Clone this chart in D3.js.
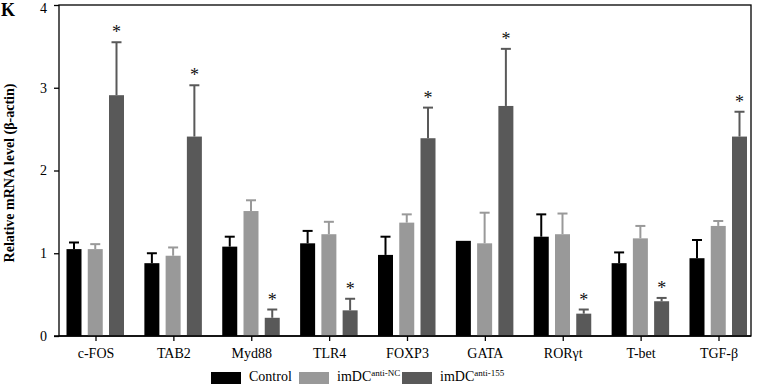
<!DOCTYPE html>
<html><head><meta charset="utf-8">
<script src="https://cdn.jsdelivr.net/npm/d3@7"></script>
<style>body{margin:0;background:#fff}svg{display:block}text{font-family:"Liberation Serif","Times New Roman",serif}</style>
</head><body><svg id="c" width="757" height="385"></svg>
<script>
const categories = ["c-FOS","TAB2","Myd88","TLR4","FOXP3","GATA","RORγt","T-bet","TGF-β"];
const seriesNames = ["Control","imDC anti-NC","imDC anti-155"];
const controlVals = [1.05,0.88,1.08,1.12,0.98,1.15,1.20,0.88,0.94];
const controlErr  = [1.13,1.00,1.20,1.27,1.20,null,1.47,1.01,1.16];
const ncVals      = [1.05,0.97,1.51,1.23,1.37,1.12,1.23,1.18,1.33];
const ncErr       = [1.11,1.07,1.64,1.38,1.47,1.49,1.48,1.33,1.39];
const antiVals    = [2.91,2.41,0.22,0.31,2.39,2.78,0.27,0.42,2.41];
const antiErr     = [3.55,3.03,0.32,0.45,2.76,3.47,0.32,0.46,2.71];
const yTicks = [0,1,2,3,4];
const colors = ["#000000","#999999","#595959"];

const svg = d3.select("#c");
const mL=59, mR=751, mT=5, mB=336;
const y = d3.scaleLinear().domain([0,4]).range([mB,mT]);
const x = d3.scalePoint().domain(categories).range([95.5,718.5]);
const offs = d3.scalePoint().domain([0,1,2]).range([-21.5,21]);
const bw = 15;

// frame
svg.append("rect").attr("x",mL).attr("y",mT).attr("width",mR-mL).attr("height",mB-mT)
  .attr("fill","none").attr("stroke","#000").attr("stroke-width",1.3);

const series = [[controlVals,controlErr],[ncVals,ncErr],[antiVals,antiErr]];
series.forEach(([vals,errs],si)=>{
  const g = svg.append("g");
  categories.forEach((c,i)=>{
    const cx = x(c)+offs(si);
    g.append("rect").attr("x",cx-bw/2).attr("y",y(vals[i])).attr("width",bw).attr("height",y(0)-y(vals[i])).attr("fill",colors[si]);
    if(errs[i]!=null){
      g.append("line").attr("x1",cx).attr("x2",cx).attr("y1",y(vals[i])).attr("y2",y(errs[i])).attr("stroke",colors[si]).attr("stroke-width",2);
      g.append("line").attr("x1",cx-5).attr("x2",cx+5).attr("y1",y(errs[i])).attr("y2",y(errs[i])).attr("stroke",colors[si]).attr("stroke-width",2);
    }
    if(si===2){
      svg.append("text").attr("x",cx).attr("y",y(errs[i])-4).attr("text-anchor","middle")
        .attr("font-size",18).attr("fill","#111").text("*");
    }
  });
});

// y axis
const ya = svg.append("g").attr("transform",`translate(${mL},0)`)
  .call(d3.axisLeft(y).tickValues(yTicks).tickSize(5).tickPadding(7).tickFormat(d3.format("d")));
ya.select(".domain").remove();
ya.selectAll("line").attr("stroke","#000").attr("stroke-width",1.3);
ya.selectAll("text").attr("font-size",14).attr("fill","#000").attr("font-family","Liberation Serif");
ya.selectAll(".tick").filter(d=>d===4).select("text").attr("dy","0.5em");

// x axis
const xa = svg.append("g").attr("transform",`translate(0,${mB})`)
  .call(d3.axisBottom(x).tickSize(5).tickPadding(7));
xa.select(".domain").attr("d",`M${mL-5},0H${mR}`).attr("stroke","#000").attr("stroke-width",1.3);
xa.selectAll("line").attr("stroke","#000").attr("stroke-width",1.3);
xa.selectAll("text").attr("font-size",14).attr("fill","#000").attr("font-family","Liberation Serif");

// y label
svg.append("text").attr("transform","translate(14,173) rotate(-90)").attr("text-anchor","middle")
  .attr("font-size",14).attr("font-weight","bold").text("Relative mRNA level (β-actin)");

// panel letter
svg.append("text").attr("x",1).attr("y",16).attr("font-size",18).attr("font-weight","bold").text("K");

// legend
const lx = [211,299,402];
seriesNames.forEach((n,i)=>{
  svg.append("rect").attr("x",lx[i]).attr("y",372).attr("width",30).attr("height",12).attr("fill",colors[i]);
  const t = svg.append("text").attr("x",lx[i]+38).attr("y",381).attr("font-size",14);
  if(i===0) t.text(n);
  else {
    const parts = n.split(" ");
    t.append("tspan").text(parts[0]);
    t.append("tspan").attr("font-size",9).attr("dy",-5).text(parts[1]);
  }
});
</script></body></html>
